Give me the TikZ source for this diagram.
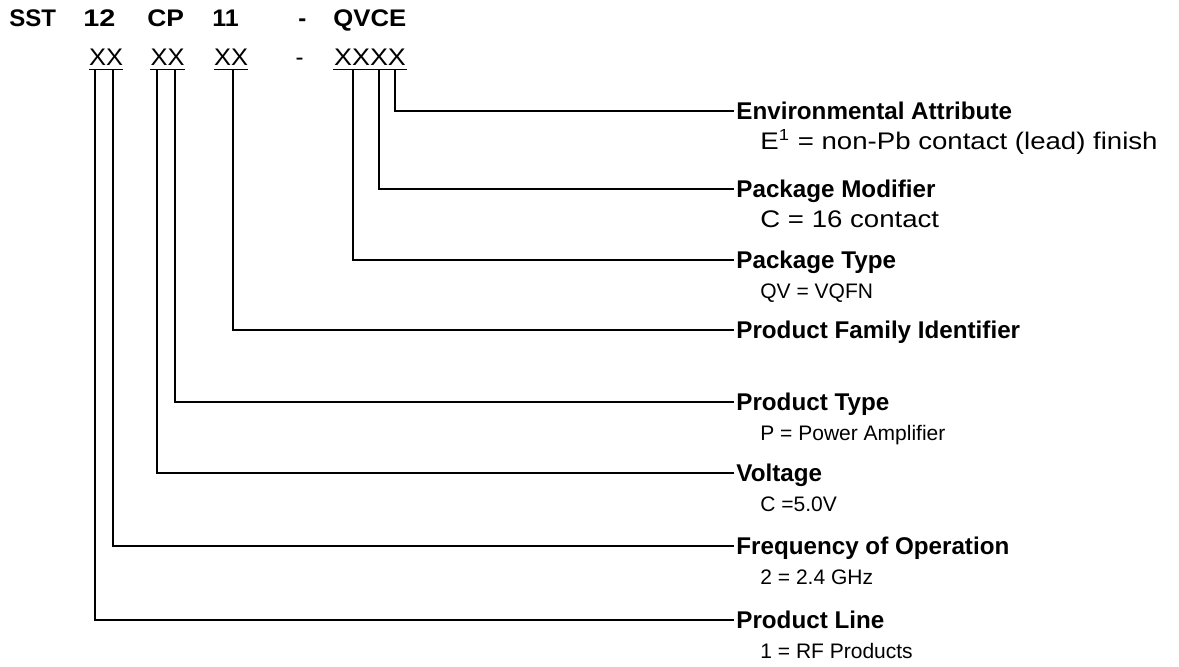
\documentclass[tikz,border=0pt]{standalone}
\usepackage{fontspec}
\setmainfont{Liberation Sans}
\newcommand{\stretchtxt}[2]{\scalebox{#1}[1]{#2}}
\begin{document}
\begin{tikzpicture}[x=0.5pt,y=-0.5pt,
  toprow/.style={anchor=base west,inner sep=0pt,font=\fontsize{12}{14}\selectfont\bfseries},
  xxrow/.style={anchor=base,inner sep=0pt,font=\fontsize{12}{14}\selectfont},
  title/.style={anchor=west,inner xsep=1pt,inner ysep=0pt,text height=8.66pt,text depth=0pt,font=\fontsize{12.1}{14}\selectfont\bfseries},
  sub/.style={anchor=base west,inner sep=0pt,font=\fontsize{10.5}{12}\selectfont},
  subwide/.style={sub,font=\fontsize{12}{14}\selectfont},
  conn/.style={line width=1pt},
  uline/.style={line width=0.8pt}]
\useasboundingbox (0,0) rectangle (1179,666);
% top row
\node[toprow] (t1) at (9,26.7) {SST};
\node[toprow] (t2) at (83,26.7) {\stretchtxt{1.2}{12}};
\node[toprow] (t3) at (147,26.7) {\stretchtxt{1.1}{CP}};
\node[toprow] (t4) at (212,26.7) {\stretchtxt{1.04}{11}};
\node[toprow] (t5) at (298,26.7) {-};
\node[toprow] (t6) at (333,26.7) {\stretchtxt{1.07}{QVCE}};
% second row
\node[xxrow] (x1) at (106,65.7) {\stretchtxt{1.06}{XX}};
\node[xxrow] (x2) at (167.5,65.7) {\stretchtxt{1.06}{XX}};
\node[xxrow] (x3) at (231,65.7) {\stretchtxt{1.06}{XX}};
\node[xxrow] (x4) at (299.5,65.7) {-};
\node[xxrow] (x5) at (370,65.7) {\stretchtxt{1.12}{XXXX}};
\draw[uline] (89,69.3) coordinate (u1s) -- (123,69.3) coordinate (u1e);
\draw[uline] (150,69.3) coordinate (u2s) -- (185,69.3) coordinate (u2e);
\draw[uline] (214,69.3) coordinate (u3s) -- (248,69.3) coordinate (u3e);
\draw[uline] (333,69.3) coordinate (u5s) -- (407,69.3) coordinate (u5e);
% anchor points on underlines
\coordinate (a1) at (95,69.3);
\coordinate (a2) at (112.7,69.3);
\coordinate (a3) at (157.3,69.3);
\coordinate (a4) at (175,69.3);
\coordinate (a5) at (233,69.3);
\coordinate (a6) at (352.7,69.3);
\coordinate (a7) at (379,69.3);
\coordinate (a8) at (395,69.3);
% titles
\node[title] (env)   at (734,110.7) {Environmental Attribute};
\node[title] (pmod)  at (734,189)   {Package Modifier};
\node[title] (ptype) at (734,260)   {Package Type};
\node[title] (pfam)  at (734,330)   {Product Family Identifier};
\node[title] (prt)   at (734,401.7) {Product Type};
\node[title] (volt)  at (734,473.3) {Voltage};
\node[title] (freq)  at (734,545.7) {Frequency of Operation};
\node[title] (pline) at (734,620)   {Product Line};
% subtitles
\node[subwide] (envs)   at (760,149.5) {\stretchtxt{1.15}{E\textsuperscript{1} = non-Pb contact (lead) finish}};
\node[subwide] (pmods)  at (760,227.3) {\stretchtxt{1.15}{C = 16 contact}};
\node[sub] (ptypes) at (760,298.3) {QV = VQFN};
\node[sub] (prts)   at (760,440) {P = Power Amplifier};
\node[sub] (volts)  at (760,511.6) {C =5.0V};
\node[sub] (freqs)  at (760,584) {2 = 2.4 GHz};
\node[sub] (plines) at (760,658.3) {1 = RF Products};
% connectors
\draw[conn] (a8) |- (env.west);
\draw[conn] (a7) |- (pmod.west);
\draw[conn] (a6) |- (ptype.west);
\draw[conn] (a5) |- (pfam.west);
\draw[conn] (a4) |- (prt.west);
\draw[conn] (a3) |- (volt.west);
\draw[conn] (a2) |- (freq.west);
\draw[conn] (a1) |- (pline.west);
\end{tikzpicture}
\end{document}
